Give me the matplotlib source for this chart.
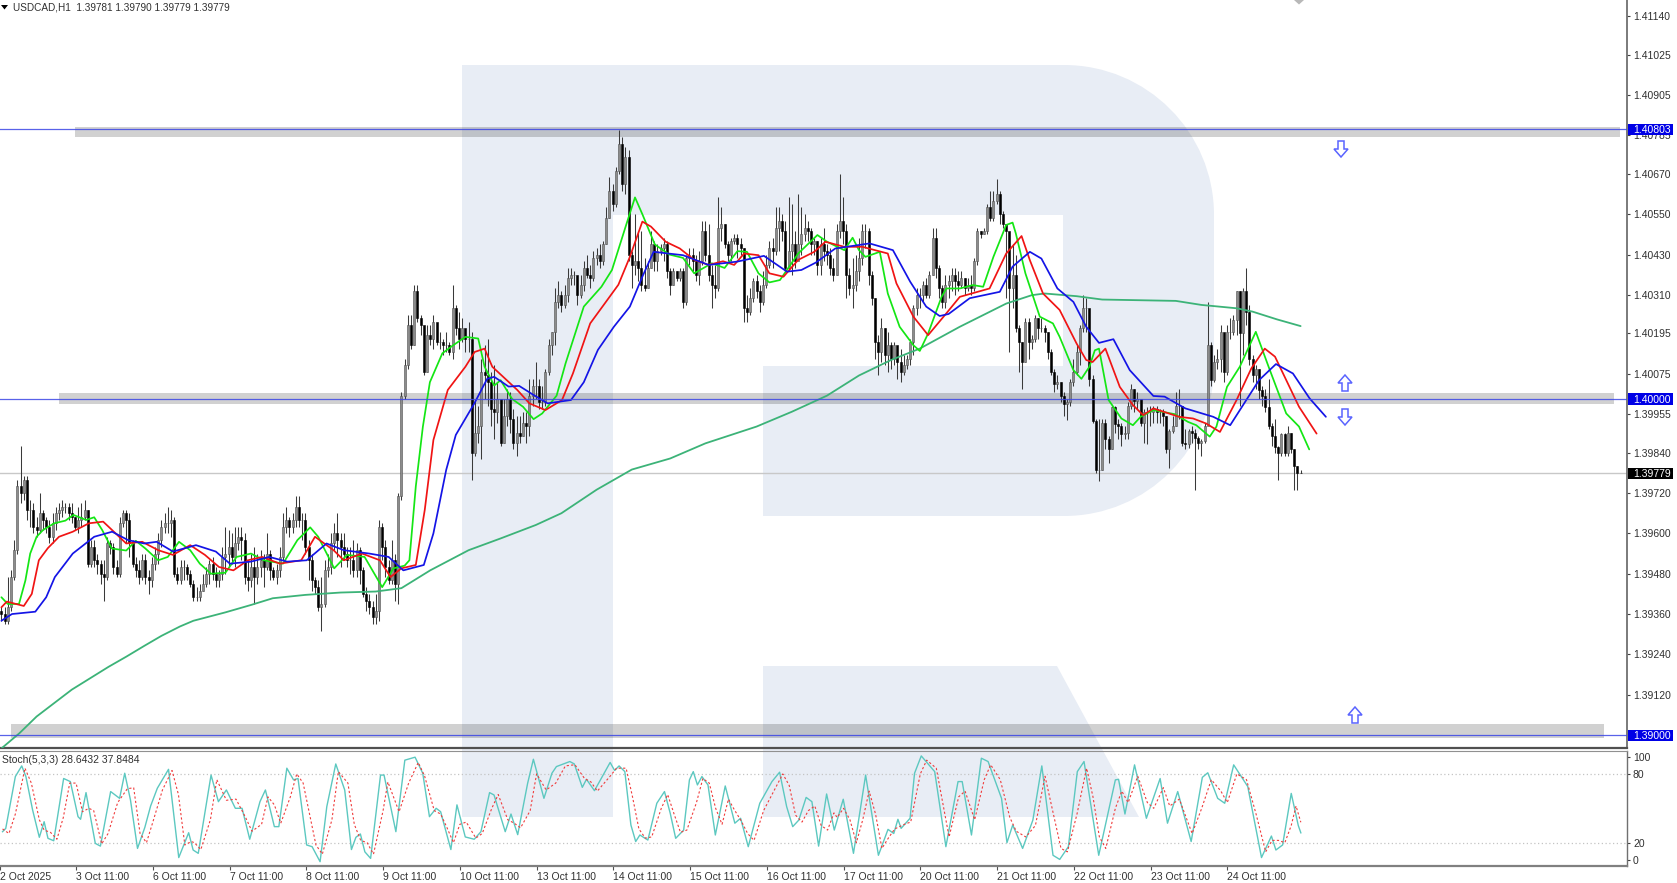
import numpy as np
import matplotlib
matplotlib.use("Agg")
import matplotlib.pyplot as plt
from matplotlib.path import Path
from matplotlib.patches import PathPatch, Rectangle, Polygon

plt.rcParams['font.family'] = ['Liberation Sans', 'DejaVu Sans']

# ---- data: USDCAD H1 candles, in pips above 1.3900 ----
BASE = 1.39
close_pips = [
 36,34,38,47,55,74,72,76,67,67,62,61,66,64,62,59,63,66,67,68,68,66,65,
 62,64,65,67,51,56,52,51,48,47,57,56,50,48,63,66,64,57,51,49,47,52,47,46,
 51,54,58,62,63,63,64,48,46,50,50,48,45,41,41,43,45,48,51,48,46,48,53,54,
 56,53,57,59,58,47,46,50,47,50,52,50,54,49,47,49,53,62,64,62,64,68,64,64,
 56,52,46,44,38,39,49,50,57,60,58,56,54,52,52,49,55,49,42,40,38,35,37,62,
 56,50,46,52,45,71,101,110,122,116,132,124,122,108,119,118,123,117,117,116,116,114,127,121,
 118,121,118,118,84,90,92,108,107,105,97,96,100,87,95,100,94,87,90,89,93,92,101,104,
 104,99,99,108,116,120,129,131,128,131,136,137,137,131,134,139,137,136,142,143,141,146,154,162,
 158,168,176,164,172,143,140,141,139,134,133,139,146,141,144,145,146,138,134,138,136,138,129,142,
 143,141,137,141,150,143,137,134,133,151,152,146,143,147,148,146,145,127,126,130,135,132,129,134,
 140,145,144,151,153,150,139,144,146,141,146,149,151,150,146,147,140,146,144,143,139,137,150,153,
 150,137,133,134,138,142,150,150,137,130,117,114,121,113,116,112,116,111,108,110,112,117,127,131,
 131,134,131,137,148,139,133,129,134,135,137,135,134,136,133,134,133,141,150,149,150,157,154,159,
 161,155,152,150,133,137,121,117,111,123,117,118,124,121,121,120,114,108,104.5,105,101,98.5,99,105,
 108,114,121,127,127,106,93.5,79,79,93,88,85,97.7,92.7,92,89.7,90,98,103,99.5,100,93,96,96,
 96,97,96,96,95,85,90.5,92,98,98,87,86.5,90.5,90,88.5,87,87.5,92,116,105.6,111,112,120,108,
 120,120,123.5,132,119.5,132,126,112,107,109,102.6,101,97.7,92,89,85.8,83.8,89.7,84,90,85,80,78,77.9]
high_pips = [
 38,38,47,49,58,76,86,77,77,70,69,65,72,67,65,64,66,68,69,70,69,69,69,
 65,68,69,70,67,58,58,54,52,52,59,58,57,52,65,67,67,66,58,53,52,54,54,49,
 53,56,60,64,66,68,67,65,50,52,52,51,49,46,44,45,48,50,52,53,50,49,56,62,
 61,60,62,62,62,60,52,54,56,54,55,54,60,55,50,51,56,66,68,65,66,71,71,66,
 66,58,54,47,46,47,52,54,60,63,66,60,60,56,56,58,57,56,50,44,42,40,42,64,
 63,58,52,58,54,72,102,112,125,125,134,134,125,119,122,122,125,122,120,118,120,117,134,128,
 126,124,120,123,120,100,98,112,116,118,108,110,105,92,100,103,102,97,95,95,96,96,106,106,
 111,106,104,109,118,120,133,135,132,134,139,139,138,136,137,141,143,140,144,145,146,147,157,166,
 164,169,180,178,175,174,144,155,150,150,142,141,150,147,146,146,148,147,139,139,138,139,139,143,
 145,145,143,144,153,153,152,140,140,160,157,152,147,148,149,149,148,145,131,133,136,137,134,138,
 143,147,148,157,157,155,153,160,158,150,161,157,155,153,151,148,147,148,151,146,145,142,152,167,
 160,152,139,142,143,148,152,152,151,138,130,119,124,121,120,117,117,115,115,113,113,118,128,133,
 133,135,136,138,151,151,140,134,137,137,139,139,138,138,136,136,137,142,151,150,151,158,162,162,
 165.5,162,156,152,148,146,143,122,117,124,124,119,125,124,124,122,120,115,109,107,105,102,100,106,
 112,116,122,131,130,123,107,94,94,94,94,89,98,98,94,93,92,99,104.5,103,102,99,97,97.5,
 98,98,98,97,97,95,91,95,102,103,98,91,91,92,91,89,88,93,129,117,113,115,122,113,
 122,124,125,132,132,133,139,128,113,110,109,104,103,106,93,94,86,90,90,92,90,85,80,79]
low_pips = [
 34,33,33,37,46,54,69,70,64,62,60,59,60,61,60,57,57,61,64,65,66,64,63,
 61,60,62,64,50,50,50,48,45,40,46,54,48,47,47,62,57,53,50,47,45,46,45,42,
 44,49,51,56,60,60,59,47,45,45,46,46,44,40,40,40,43,44,45,46,44,44,46,48,
 50,51,50,55,52,45,43,44,39,45,47,44,49,46,46,45,47,52,60,59,60,62,62,58,
 54,46,43,42,37,31,38,47,48,55,53,50,52,50,48,47,47,45,41,37,36,33,33,34,
 52,47,45,45,40,39,70,100,109,115,116,123,119,107,108,116,115,116,115,113,114,113,112,119,
 115,117,114,114,76,83,87,82,100,98,92,88,93,86,87,92,90,85,83,87,89,87,89,98,
 100,97,97,98,107,113,116,127,126,127,129,134,134,128,130,132,136,133,135,140,139,140,146,154,
 156,157,167,162,161,141,133,137,135,132,132,133,139,138,138,143,141,136,131,134,135,135,127,128,
 140,138,135,134,140,141,135,127,130,132,147,145,141,141,146,142,143,123,123,125,129,130,126,128,
 133,139,139,143,144,147,138,138,137,139,145,143,147,147,143,143,137,137,141,140,137,135,137,148,
 146,130,131,127,132,135,140,145,134,128,112,107,111,110,108,109,110,106,105,107,109,110,113,125,
 127,129,130,130,137,136,130,127,127,130,132,131,132,133,131,132,131,132,140,148,149,149,153,153,
 158,152,151,130,114,127,120,108,103,111,112,115,117,118,120,117,112,107,102,103,99,95,93.7,98,
 104,107,110,120,120,104,93,78,75.6,79,85,81,85,90,88,86,88,88,97,96,97,92,87,86.5,
 92,93,93,93,92,84,79.5,90,92,94,86,85,85.5,87,73,85,83,87,101.6,104,105,109,108,105,
 107,118,119,119,98,113,122,110,105,103,100,98,96,91,86,84,76,83,83,83,84,73,73,77.9]

# ---- moving averages (bar number, pips) ----
green_bar = [0,2,5.5,7.5,9,11,13,16.5,20,22.5,26.5,29,31.5,34.5,39,42,45,49,52,55.5,59,62,65.5,70,73.5,78,82,88,92.5,96.5,99,104,108,113.5,119,122.5,126,127.5,
 129.5,131.7,133.9,137.8,140.6,145,149,151,154,156,159.6,163,166.3,169,173.5,176.3,182,187.5,190.8,195.3,198,200.3,204.2,208.7,213,216.5,222,226,230,233,236.6,240,243.3,249,255,258,263.4,266,268,
 270,274.5,277,280.7,285,287,289.6,293.8,295.3,299.5,303.6,306.8,310,314,316,317,320,324.5,328.6,330.7,335,337.5,340,341.7,343,346,350,353.6,356,360,366.6,370.8,373.4,377.6,379.7,383,387,392,396,401.5,405.5,408.7]
green_val = [41,39,39,46,54,59,61,63,63.8,65.5,64,64.8,61,55.5,54.9,57.8,55.5,52,53,57.5,55,51,48,48.3,53,54,52,51,58,61.8,59,49.6,53.6,53,44,49.6,50.4,52,
 74,91.7,105,113.6,115.6,118.5,118,109.6,104,105.6,100,97.7,94,95.7,101,110.6,127.5,133.4,138.4,152,160,155,146,143,142,137.4,140.4,139,144,143.8,137.4,134.7,135.4,143.3,148.8,146.8,144.3,148,144.3,
 142.3,143.8,131.4,121.5,116,114.3,119.5,130.4,132.9,132.9,133.9,133.4,142.3,151.8,152.5,149.3,137.4,124.5,122.5,118.5,108.6,106,109.6,114.5,115,99.7,94.2,92.2,94.7,96.7,95.5,93.2,92.2,88.8,91.8,103.6,109.6,120,109.6,95.7,91.8,85]
red_bar = [0,1.7,7,9.5,11.7,14.5,18,22.3,27.3,31.8,35.7,39,44,49,53.6,59,63.6,68,72.5,77,81.5,87,93.7,98,103.8,107,112.7,118.3,121.6,125,129.5,
 132.3,135,139.5,145,147.9,151,153.4,156.8,161.2,165,170,175.2,178.6,184,188.6,192.8,196.4,200.3,203,207.6,212,216.5,221,225.5,229,232.1,236.6,240,244.4,249,254,257.5,263.4,269,
 277,279.7,285,289.6,295.3,299.5,308.8,314,318.8,321.4,325.5,330.7,336,339,341,345,349.5,353.6,356.8,360,368,372.4,376.5,380.8,386,390.6,394.8,398,405.5,411]
red_val = [38,39.7,38.4,42,52,55.6,59,60.5,63,63.5,60,57,57.5,55,53.6,56.5,53.6,50,49,52,53,51,52,59,55,52,54,52,47,49.6,50.6,
 67,87.8,102.7,109.6,114,115,109.6,106.6,102.7,98.7,96.7,99.7,107.6,122.5,128.5,134,142.3,152.8,151.3,146.8,144.8,141.4,139.9,141,139.9,143.3,142.8,137.4,136.4,141.4,143.8,146.8,145.3,145.3,
 143.3,134.4,124.5,119,125.5,130.4,132.9,143.3,148.5,141.3,131.4,126.5,116.5,111.6,111,115,103.6,98.2,95.2,97.2,94.7,94.2,92.7,90.2,99.7,109.1,115,112.6,97.7,89.7]
blue_bar = [0,3.3,10.6,14,16.7,22.3,29,34.6,39.6,44.6,48.5,53.6,60.8,67,71.4,78,83.7,89.3,95.4,101.6,107,115,121,125.6,132,135,139,
 142,147.8,151.8,154,158.5,161.8,166.3,170.7,178,182,186.4,191.4,196.4,200.3,203.8,213,221,230,238.3,245.5,250,254.5,260.6,
 271.3,278.6,284,289,293.2,296,302.6,312,316,321.4,325,330,335,339,343,347.5,352.6,360,363.5,370,378.7,384,393,398.3,403.6,408.8,413.9]
blue_val = [34,36,36.7,41,47,54,59,60.5,58,57,57.5,54.6,56.5,54.6,51,51.6,53,51.6,52,57,55,54,53,49,50.6,60,78.9,
 89.3,98.7,106,106.6,103.7,103.9,101.2,98.7,99.7,105,114.6,121.5,127.5,136.4,143.8,142.8,139.9,140.9,142.6,137.9,138.4,140.6,144.8,
 146.3,144.3,134.9,127.5,124.7,125.3,130,131.9,139.4,143.8,141.8,132.9,128.9,121.5,116.7,117.8,108.6,100.9,100.7,97.2,94.7,92.2,105.6,110.4,107.6,100.2,94.7]
ma200_bar = [0,5.6,11,22,33.5,39,44.6,50,55.8,60,70,78,84.8,95,106,117,125,134,146,156,167,175,
 186,197,209,220,236,247,258,268,278,287,
 299.5,314,322,326,336,344,367,375,386,391,398.6,406]
ma200_val = [-4,0.5,5.5,13.5,20.3,23.3,26.5,29.5,32.3,34,36.5,38.7,40.7,41.7,42.4,42.7,43.7,49,55,58.5,62.5,66,
 73,79,82.3,86.8,91.8,96.2,101,107,111.6,115,
 121.5,128.4,130.9,131.4,130.6,129.6,129.2,128,127,126,123.7,121.7]

# ---- Stochastic ----
stoch_bar = [0,1,4,6,7.3,9.4,11.5,13,14.2,16,19.1,21.2,23.6,24.4,26.1,29,30.6,33.8,36.6,38.2,40,42.2,44.5,46.3,48.4,51.9,55.1,58.2,59.6,61.2,65.2,67.5,70,72.8,74.9,77.3,80.5,82.2,85,86.4,88.9,91,92.4,95.1,96.8,99.3,101.4,104.2,107,109.1,110.5,111.9,113.3,115.1,118.2,119.3,123,125.8,129,131.4,133.5,135.6,137,140.2,142.1,144.7,147.5,149.6,152.3,153.7,157.2,159,161.1,164.2,166,169.3,171.8,173.2,177.4,178.8,181.3,182.6,185.1,190,191.4,192.8,194.6,196.5,198,199.3,201.8,204.6,207,208.8,210.5,
 213,214.8,216,217.3,218.7,220.6,222.9,226,229,230.8,233.2,236.8,240.6,243,245.2,247.1,249,251.3,253.1,255.2,257.7,260.1,262.9,266.1,269.9,273.9,276.9,278.7,280,281,283.8,285.2,287.3,291.5,295,298.8,300.1,303,306.1,308.2,312.4,314.1,315.9,319,322.2,325,328.5,330.6,333.3,336.1,338.2,342.8,348,349,351,354,357.7,362,364.3,367.5,371.7,375.2,376.9,380,382.2,385,389.4,393.7,396.8,398.2,400.3,403,405.2,406]
stoch_val = [29.6,32.5,77.7,87,77.7,48.5,24.7,38.3,23.8,21.7,76,73.3,42.7,40.4,63.7,19.4,17,64.6,58.7,80.6,57.3,15,33.4,52,67.5,84,7,28.7,13.6,10.7,79,55.8,66,50,50,23,55.8,66,34,34,85,74.8,76,18,16.5,3.4,51.5,88.7,66,14,24.7,27.6,12,6.3,79,79,29.6,92,94.6,80.6,42.7,50,47,14,53,25,23,29.6,63.7,61.6,29.6,45,27,71.8,92.8,58.7,80.6,86.4,90.8,88.7,68.3,75.3,65.4,90,83,87,82,35.4,21,26.7,22.3,54.4,64.6,45.6,23.8,
 31,74.8,82,70.4,77.7,70.4,26.7,69.5,37,41.3,16.5,54.4,73.3,81.5,51.5,34,39.7,59.5,55.8,17,62.5,31,57.9,10.7,79,9,31.6,28,40.4,32.5,41.3,80.6,95.7,82,16.5,73.3,73.3,26.7,93.7,90.8,58.7,20,35.4,15,39.7,87,9,5.4,16.5,82,90.8,9,74.8,75.3,45,87.9,41.3,76,37,64.6,21,77,81,58.7,54.4,87.9,69,7,25.8,13.6,18,63,35,28.6]
signal_bar = [0,2,4,7,9,11.5,13,15,17,19,21,23,25,27,28.5,31,33,36,39,41,43,45,47,50,53,55,57,59,60,62,65,67,70,73,76,78,81,83,85,87,90,92,94,96.5,98,100,103,105,108,110,112,114,116,119,120.5,124,127,130,132,135,137,139,141,143,145,148,150,153,155,158,160,162,165,167,170,173,176,179,182,184,186,190,192,195,197,199,201,203,206,208,210,212,214,217,219,221,223,225,227,229,231,233,235,238,241,244,246,248,250,252,254,256,258,260,261,263,265,267,269,271,273,275,277,279,282,284,287,289,292,294,296,299,301,304,307,309,312,315,317,320,323,326,329,331,333,336,339,341,343,345,348,350,352,355,358,360,363,365,368,372,375,378,381,383,386,389,392,395,397,399,401,403,404.5,406]
signal_val = [32,28,45,85,72,40,31,29,23,42,72,72,47,50,48,19,28,55,67,68,28,20,38,66,83,62,18,21,20,14,40,75,57,58,42,30,36,60,53,37,60,80,72,38,18,10,40,82,72,36,22,20,10,48,73,47,72,90,78,48,45,33,20,36,38,24,28,50,62,40,37,33,48,80,66,72,87,88,76,73,65,78,85,85,60,32,24,25,50,62,45,29,31,55,76,72,50,36,58,48,39,28,22,48,64,80,70,44,38,48,52,35,31,46,42,50,40,20,40,65,45,15,24,32,36,38,80,92,85,55,25,60,65,40,75,88,75,42,30,25,35,78,40,15,12,45,85,60,25,15,50,65,55,78,55,50,68,52,58,28,50,75,65,55,80,75,45,12,22,22,20,35,52,37.8]

# ---- levels, axes labels ----
level_prices = [1.40803, 1.40000, 1.39000]
band_tops = [1.40809, 1.40018, 1.39033]
band_bottoms = [1.40779, 1.39985, 1.38991]
band_left_bars = [23, 18, 3]
band_right_bars = [505.8, 504, 500.8]
last_price = 1.39779
price_ticks = [1.41140,1.41025,1.40905,1.40785,1.40670,1.40550,1.40430,1.40310,1.40195,1.40075,1.39955,1.39840,1.39720,1.39600,1.39480,1.39360,1.39240,1.39120]
date_labels = ['2 Oct 2025','3 Oct 11:00','6 Oct 11:00','7 Oct 11:00','8 Oct 11:00','9 Oct 11:00','10 Oct 11:00','13 Oct 11:00','14 Oct 11:00','15 Oct 11:00','16 Oct 11:00','17 Oct 11:00','20 Oct 11:00','21 Oct 11:00','22 Oct 11:00','23 Oct 11:00','24 Oct 11:00']
date_bars = [-0.8] + [23 + 24*k for k in range(16)]
stoch_ticks = [100, 80, 20, 0]
stoch_tick_pos = [95, 80, 20, 4.5]

W, H = 1677, 883
FS = 7.5
TXT = '#303030'
fig = plt.figure(figsize=(W/100, H/100), dpi=100, facecolor='white')

def px_axes(z):
    a = fig.add_axes([0, 0, 1, 1], zorder=z)
    a.set_xlim(0, W); a.set_ylim(H, 0); a.axis('off')
    a.patch.set_alpha(0)
    return a

# watermark logo
bg = px_axes(0)
LOGO = '#e8edf5'
bg.add_patch(Rectangle((462, 65), 151, 752, fc=LOGO, ec='none'))
k = 150*0.5523
verts = [(613,65),(1064,65),(1064+k,65),(1214,215-k),(1214,215),(1214,366),(1214,366+k),(1064+k,516),(1064,516),
         (763,516),(763,366),(1063,366),(1063,215),(613,215),(613,65)]
codes = [Path.MOVETO,Path.LINETO,Path.CURVE4,Path.CURVE4,Path.CURVE4,Path.LINETO,Path.CURVE4,Path.CURVE4,Path.CURVE4,
         Path.LINETO,Path.LINETO,Path.LINETO,Path.LINETO,Path.LINETO,Path.CLOSEPOLY]
bg.add_patch(PathPatch(Path(verts, codes), fc=LOGO, ec='none'))
bg.add_patch(Polygon([(763,666),(1057,666),(1139,817),(763,817)], fc=LOGO, ec='none'))

# main panel
ax = fig.add_axes([0, 1-748/H, 1627/W, 748/H], zorder=1)
ax.patch.set_alpha(0)
x_left, x_right = (0-1.4)/3.2, (1627-1.4)/3.2
ax.set_xlim(x_left, x_right)
to_price = lambda a: BASE + np.asarray(a, float)*1e-4
ax.set_ylim(BASE + (735-748)/3.36*1e-4, BASE + 735/3.36*1e-4)

for t, b, l, r in zip(band_tops, band_bottoms, band_left_bars, band_right_bars):
    ax.fill_between([l, r], [b, b], [t, t], color='black', alpha=0.18, lw=0, zorder=1)
ax.axhline(last_price, color='#c8c8c8', lw=1, zorder=1.5)

c = to_price(close_pips); h = to_price(high_pips); l = to_price(low_pips)
o = np.r_[to_price(37), c[:-1]]
bars = np.arange(len(c))
up = c >= o
ax.vlines(bars, l, h, color='#3a3a3a', lw=0.75, zorder=2)
ax.bar(bars[up], (c-o)[up], bottom=o[up], width=0.62, color='#8c8c8c', edgecolor='#505050', linewidth=0.4, zorder=3)
ax.bar(bars[~up], (o-c)[~up], bottom=c[~up], width=0.62, color='#000000', edgecolor='#000000', linewidth=0.4, zorder=3)

rnd = dict(solid_joinstyle='round', solid_capstyle='round')
ax.plot(ma200_bar, to_price(ma200_val), color='#3cb378', lw=1.3, zorder=4, **rnd)
ax.plot(green_bar, to_price(green_val), color='#14e614', lw=1.25, zorder=4, **rnd)
ax.plot(red_bar, to_price(red_val), color='#f01414', lw=1.25, zorder=4.1, **rnd)
ax.plot(blue_bar, to_price(blue_val), color='#1414e6', lw=1.25, zorder=4.2, **rnd)
for lv in level_prices:
    ax.axhline(lv, color='#3c46e6', lw=0.9, alpha=0.85, zorder=5)

ax.yaxis.tick_right()
ax.set_yticks(price_ticks)
ax.set_yticklabels([f'{v:.5f}' for v in price_ticks], fontsize=FS, color=TXT)
ax.tick_params(axis='y', length=2.5, width=0.8, pad=1.8, color='#404040')
ax.tick_params(axis='x', bottom=False, labelbottom=False)
for s in ('top', 'left'):
    ax.spines[s].set_visible(False)
ax.spines['right'].set_color('#707070'); ax.spines['right'].set_linewidth(1.3)
ax.spines['bottom'].set_color('#505050'); ax.spines['bottom'].set_linewidth(1.6)

# stochastic panel
sx = fig.add_axes([0, 1-866/H, 1627/W, 115/H], zorder=1)
sx.patch.set_alpha(0)
sx.set_xlim(x_left, x_right)
sx.set_ylim(-0.35, 100)
for v in (80, 20):
    sx.axhline(v, color='#c4c4c4', lw=0.9, ls=(0, (1, 2)), zorder=1)
sx.plot(stoch_bar, stoch_val, color='#5cc8c0', lw=1.0, zorder=3)
sx.plot(signal_bar, signal_val, color='#f03c3c', lw=0.8, ls=(0, (2, 2)), zorder=4)
sx.yaxis.tick_right()
sx.set_yticks(stoch_tick_pos)
sx.set_yticklabels([str(v) for v in stoch_ticks], fontsize=FS, color=TXT)
sx.tick_params(axis='y', length=2.5, width=0.8, pad=1.8, color='#404040')
sx.set_xticks(date_bars)
sx.set_xticklabels(date_labels, fontsize=FS, color=TXT, ha='left')
sx.tick_params(axis='x', length=3, width=0.8, pad=1.0, color='#505050')
sx.spines['left'].set_visible(False)
sx.spines['right'].set_color('#707070'); sx.spines['right'].set_linewidth(1.0)
sx.spines['top'].set_color('#909090'); sx.spines['top'].set_linewidth(0.8)
sx.spines['bottom'].set_color('#808080'); sx.spines['bottom'].set_linewidth(1.6)

# overlays
fg = px_axes(6)
fg.text(13, 7.5, 'USDCAD,H1  1.39781 1.39790 1.39779 1.39779', fontsize=7.2, color=TXT, va='center', ha='left')
fg.add_patch(Polygon([(1,5),(8,5),(4.5,9.5)], fc='black', ec='none'))
fg.text(2, 760, 'Stoch(5,3,3) 28.6432 37.8484', fontsize=FS, color=TXT, va='center', ha='left')
fg.add_patch(Polygon([(1294,0),(1304,0),(1299,4.5)], fc='#b8b8b8', ec='none'))

for lv in level_prices:
    y = 735 - (lv-BASE)*33600
    fg.add_patch(Rectangle((1628.5, y-5.5), 45, 11.5, fc='#0000e6', ec='none', zorder=3))
    fg.text(1633, y+0.8, f'{lv:.5f}', fontsize=FS, color='white', va='center', ha='left', zorder=4)
y = 735 - (last_price-BASE)*33600
fg.add_patch(Rectangle((1628.5, y-5.5), 45, 11.5, fc='black', ec='none', zorder=3))
fg.text(1633, y+0.8, f'{last_price:.5f}', fontsize=FS, color='white', va='center', ha='left', zorder=4)

def hollow_arrow(cx, cy, up):
    s = -1 if up else 1
    pts = [(-3,-8),(3,-8),(3,0),(7,0),(0,8),(-7,0),(-3,0)]
    fg.add_patch(Polygon([(cx+px_, cy+s*py_) for px_, py_ in pts], fc='white', ec='#5a64ff', lw=1.1, zorder=3))
for cx, cy, is_up in [(1341,149,False),(1345,383,True),(1345,417,False),(1355,715,True)]:
    hollow_arrow(cx, cy, is_up)

fig.savefig('out.png', dpi=100, facecolor='white')
